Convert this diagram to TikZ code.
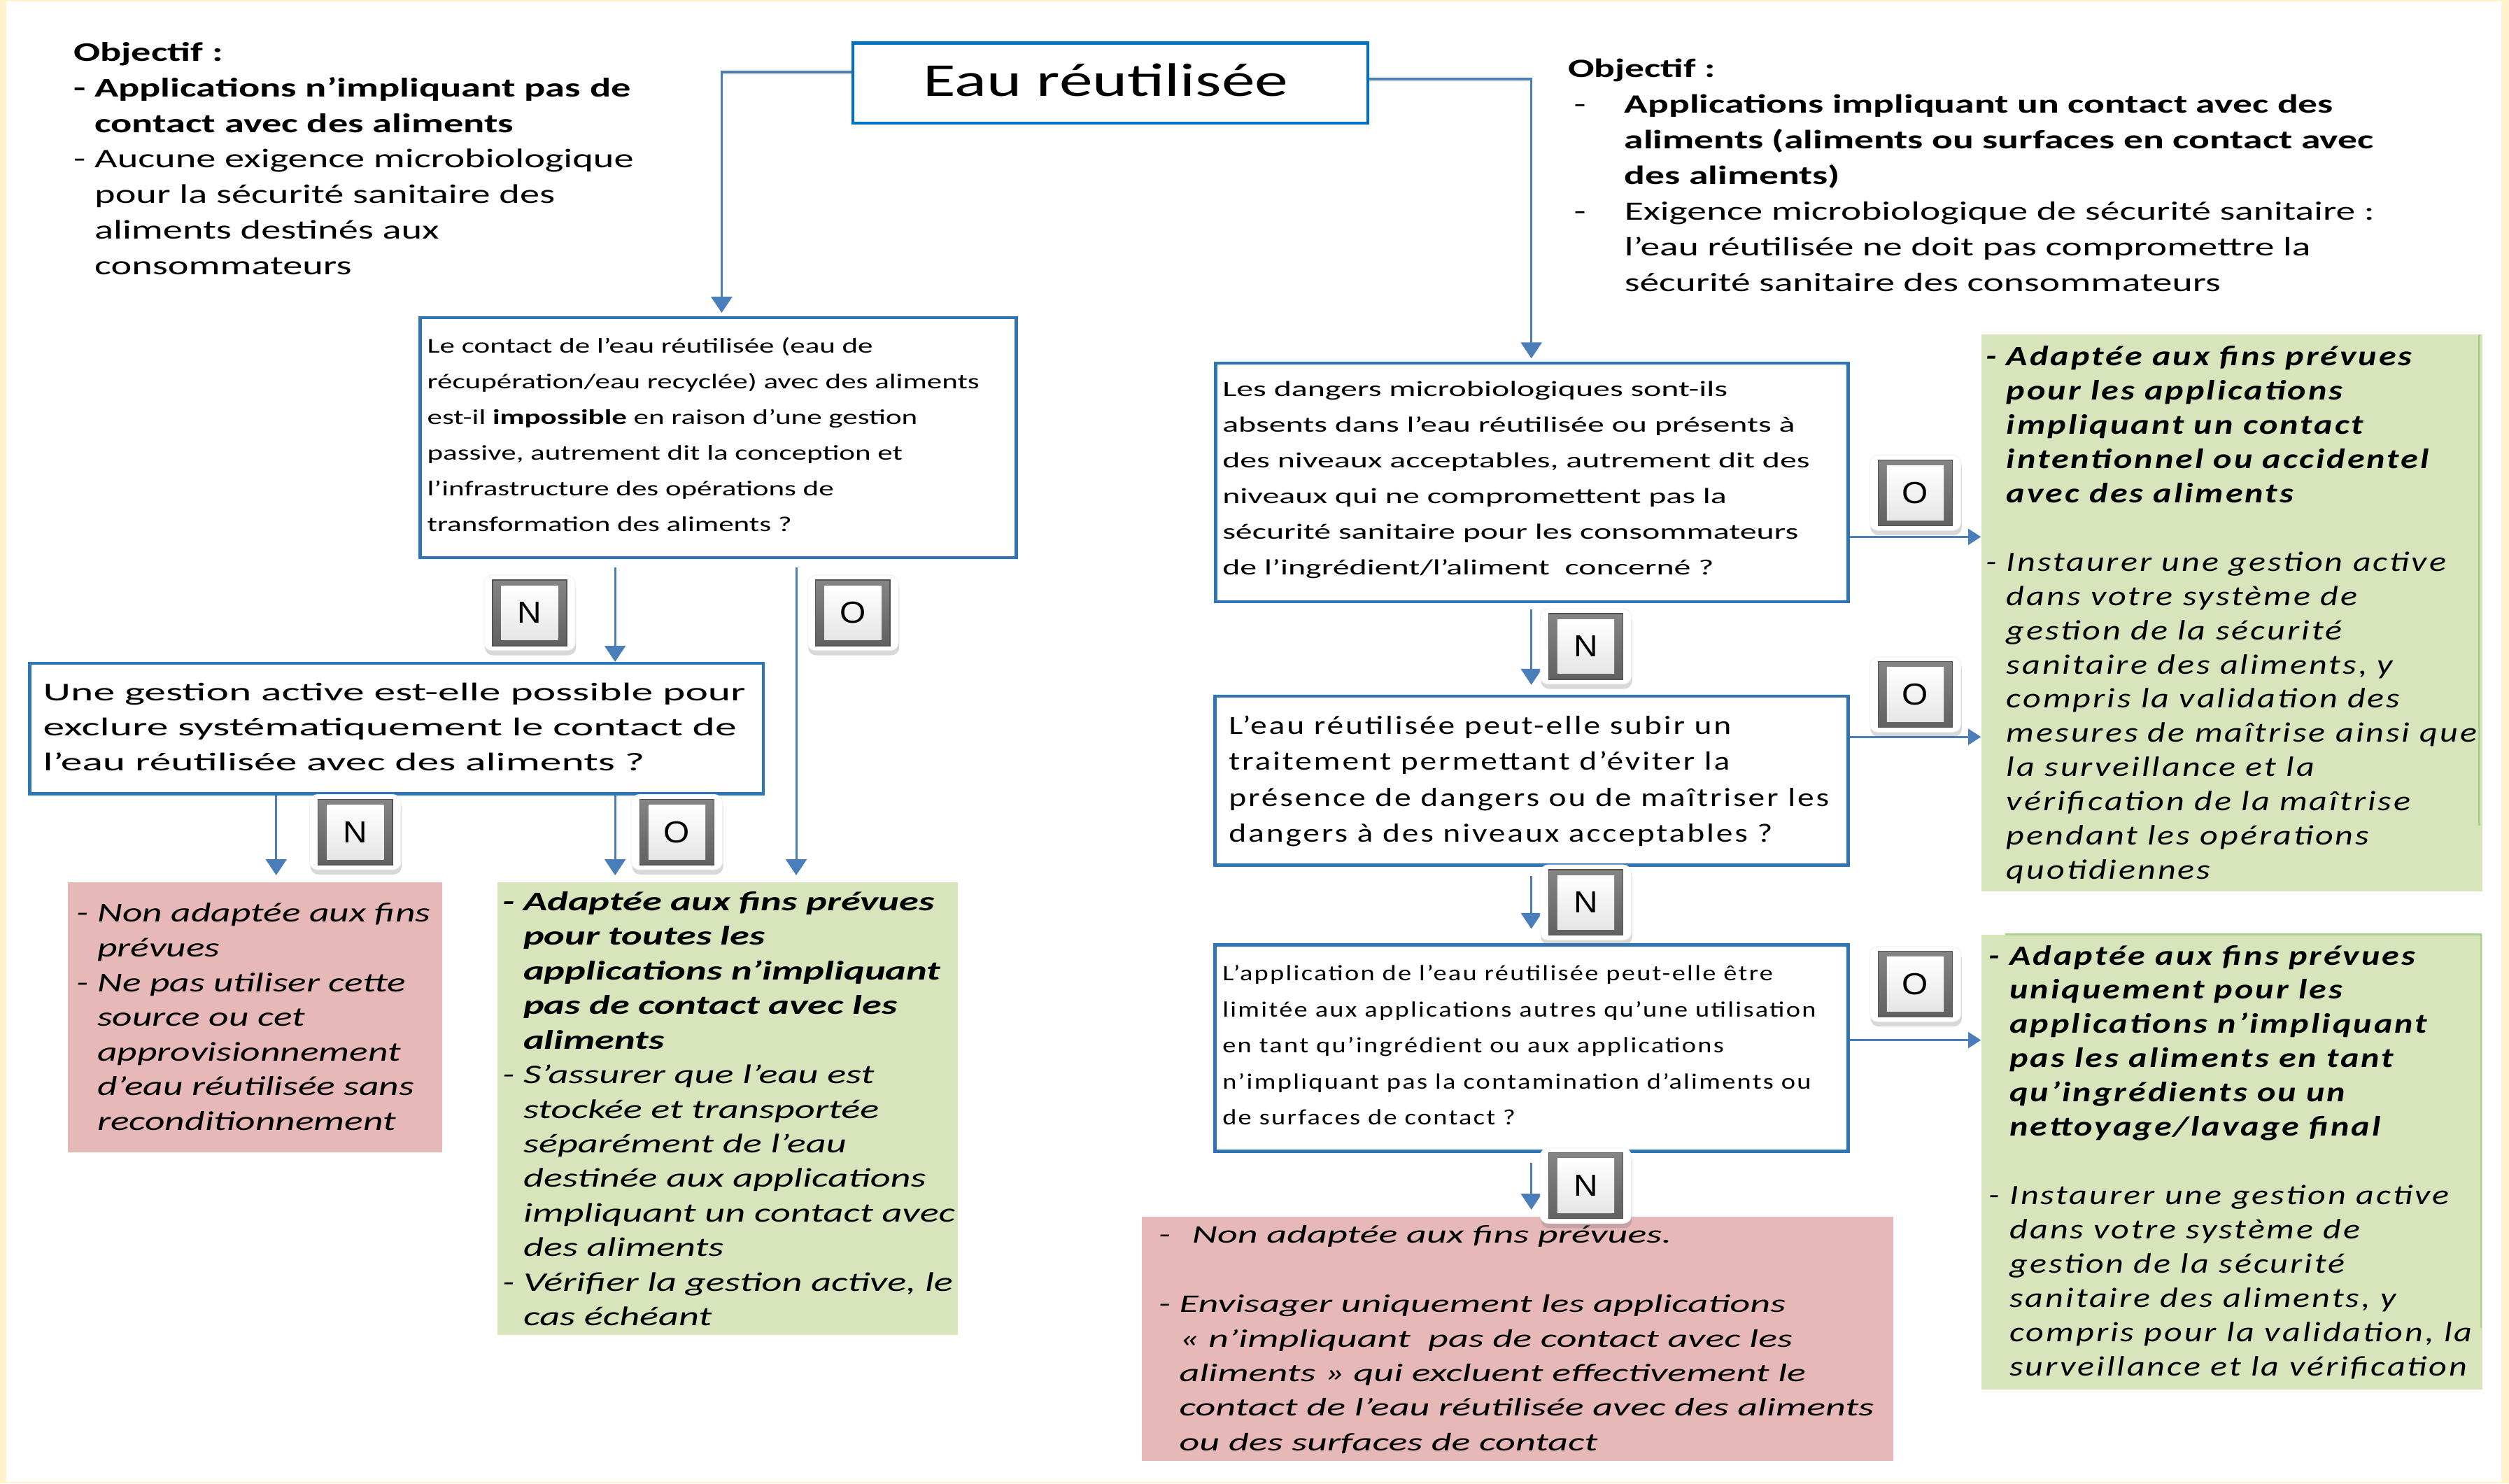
\documentclass[tikz,border=0pt]{standalone}
\usepackage{fontspec}
\setmainfont{Carlito}
\newfontfamily\spfont{Carlito}[LetterSpace=6.0]
\newfontfamily\arialfont{Liberation Sans}
\usepackage{graphicx}
\usetikzlibrary{arrows.meta,shadows}
\definecolor{connblue}{RGB}{74,126,187}
\definecolor{boxblue}{RGB}{46,117,182}
\definecolor{titleblue}{RGB}{0,112,192}
\definecolor{redfill}{RGB}{230,184,183}
\definecolor{greenfill}{RGB}{216,228,188}
\definecolor{greenedge}{RGB}{169,208,142}
\definecolor{yellowbg}{RGB}{255,242,204}
\definecolor{btngray}{RGB}{112,112,112}
\newcommand\blk[5][]{\resizebox{#2pt}{\height}{\fontsize{#3pt}{#4pt}\selectfont#1\begin{tabular}{@{}l@{}}#5\end{tabular}}}
\newcommand\indt{\phantom{- }}
\newcommand\btn[3]{\node[btnout] at (#2) {};\node[btnframe] (#1) at (#2) {};\node[btnface] at (#2) {\scalebox{1.1}[1]{\arialfont\fontsize{19pt}{19pt}\selectfont #3}};}
\tikzset{
 qbox/.style={draw=boxblue, line width=2pt, fill=white, anchor=north west, inner sep=0pt},
 cbox/.style={anchor=north west, inner sep=0pt, draw=none},
 txt/.style={anchor=north west, inner sep=0pt, outer sep=0pt},
 conn/.style={draw=connblue, line width=1.3pt},
 varr/.style={conn, -{Triangle[length=10pt,width=13pt]}},
 harr/.style={conn, -{Triangle[length=8pt,width=10pt]}},
 btnout/.style={rectangle, rounded corners=5pt, minimum width=57pt, minimum height=47pt, fill=white, draw=black!6, drop shadow={shadow xshift=0.5pt, shadow yshift=-3pt, opacity=0.25, fill=black!60}},
 btnframe/.style={rectangle, minimum width=46.5pt, minimum height=41pt, top color=black!48, bottom color=black!62, draw=black!68, line width=0.6pt},
 btnface/.style={rectangle, minimum width=35.5pt, minimum height=34pt, inner sep=0pt, top color=white, bottom color=black!10},
}
\begin{document}
\begin{tikzpicture}[x=1pt,y=-1pt]
\useasboundingbox (0,0) rectangle (1568,927);
\fill[yellowbg] (0,0) rectangle (1568,927);
\fill[white] (4,0.8) rectangle (1563,926);

% boxes
\node[qbox, draw=titleblue, line width=1.8pt, minimum width=322pt, minimum height=50pt] (title) at (532,26) {};
\node[qbox, minimum width=372.5pt, minimum height=150pt] (box1) at (261.5,197.5) {};
\node[qbox, minimum width=458.5pt, minimum height=81.4pt] (box2) at (17.5,413.6) {};
\node[qbox, minimum width=395.4pt, minimum height=149pt] (R1) at (758.6,226) {};
\node[qbox, minimum width=395.7pt, minimum height=105.6pt] (R2) at (758.3,434) {};
\node[qbox, minimum width=395.7pt, minimum height=129pt] (R3) at (758.3,589.5) {};
\node[cbox, fill=redfill, minimum width=234pt, minimum height=169pt] (redL) at (42,551) {};
\node[cbox, fill=greenfill, minimum width=288pt, minimum height=283pt] (G1) at (310.5,551) {};
\node[cbox, fill=redfill, minimum width=469.4pt, minimum height=152.6pt] (red2) at (713.6,760) {};
\node[cbox, fill=greenfill, minimum width=313pt, minimum height=348pt] (G2) at (1238,209) {};
\node[cbox, fill=greenfill, minimum width=313pt, minimum height=284pt] (G3) at (1238,584) {};
\draw[greenedge, line width=1pt] ([xshift=-2pt]G2.north east) -- ([xshift=-2pt,yshift=-307pt]G2.north east);
\draw[greenedge, line width=1pt] ([xshift=15pt]G3.north west) -- ([xshift=-1pt]G3.north east) -- ([xshift=-1pt,yshift=-246pt]G3.north east);

% texts
\node[anchor=base, inner sep=0pt] (titletxt) at (691,60) {\resizebox{228pt}{\height}{\fontsize{29.4pt}{35pt}\selectfont Eau réutilisée}};

\node[txt] (objL) at (46,22.7) {\blk{350}{16.8}{22.2}{%
\textbf{Objectif :}\\
\textbf{- Applications n’impliquant pas de}\\
\textbf{\indt contact avec des aliments}\\
- Aucune exigence microbiologique\\
\indt pour la sécurité sanitaire des\\
\indt aliments destinés aux\\
\indt consommateurs}};

\node[txt] (objR) at (980,32.5) {\blk{504}{16.5}{22.35}{%
\textbf{Objectif :}\\
\makebox[1.45em][l]{\hspace{0.15em}-}\textbf{Applications impliquant un contact avec des}\\
\hspace*{1.45em}\textbf{aliments (aliments ou surfaces en contact avec}\\
\hspace*{1.45em}\textbf{des aliments)}\\
\makebox[1.45em][l]{\hspace{0.15em}-}Exigence microbiologique de sécurité sanitaire :\\
\hspace*{1.45em}l’eau réutilisée ne doit pas compromettre la\\
\hspace*{1.45em}sécurité sanitaire des consommateurs}};

\node[txt] (t1) at (267,205) {\blk{345}{13.2}{22.3}{%
Le contact de l’eau réutilisée (eau de\\
récupération/eau recyclée) avec des aliments\\
est-il \textbf{impossible} en raison d’une gestion\\
passive, autrement dit la conception et\\
l’infrastructure des opérations de\\
transformation des aliments ?}};

\node[txt] (t2) at (27,422.7) {\blk{439}{16}{21.85}{%
Une gestion active est-elle possible pour\\
exclure systématiquement le contact de\\
l’eau réutilisée avec des aliments ?}};

\node[txt] (tRL) at (48,561) {\blk[\itshape]{221}{17}{21.7}{%
- Non adaptée aux fins\\
\indt prévues\\
- Ne pas utiliser cette\\
\indt source ou cet\\
\indt approvisionnement\\
\indt d’eau réutilisée sans\\
\indt reconditionnement}};

\node[txt] (tG1) at (314,553.8) {\blk[\itshape]{283}{16.8}{21.63}{%
\textbf{- Adaptée aux fins prévues}\\
\textbf{\indt pour toutes les}\\
\textbf{\indt applications n’impliquant}\\
\textbf{\indt pas de contact avec les}\\
\textbf{\indt aliments}\\
- S’assurer que l’eau est\\
\indt stockée et transportée\\
\indt séparément de l’eau\\
\indt destinée aux applications\\
\indt impliquant un contact avec\\
\indt des aliments\\
- Vérifier la gestion active, le\\
\indt cas échéant}};

\node[txt] (tR1) at (764,232.2) {\blk{367}{13.6}{22.3}{%
Les dangers microbiologiques sont-ils\\
absents dans l’eau réutilisée ou présents à\\
des niveaux acceptables, autrement dit des\\
niveaux qui ne compromettent pas la\\
sécurité sanitaire pour les consommateurs\\
de l’ingrédient/l’aliment\ \ concerné ?}};

\node[txt] (tR2) at (768,443.1) {\blk[\spfont]{375}{16.4}{22.5}{%
L’eau réutilisée peut-elle subir un\\
traitement permettant d’éviter la\\
présence de dangers ou de maîtriser les\\
dangers à des niveaux acceptables ?}};

\node[txt] (tR3) at (764,597.2) {\blk[\spfont]{371}{13.7}{22.5}{%
L’application de l’eau réutilisée peut-elle être\\
limitée aux applications autres qu’une utilisation\\
en tant qu’ingrédient ou aux applications\\
n’impliquant pas la contamination d’aliments ou\\
de surfaces de contact ?}};

\node[txt] (tRd2) at (724,761.8) {\blk[\itshape]{447}{15.8}{21.6}{%
-\hspace{0.55em}Non adaptée aux fins prévues.\\
\\
- Envisager uniquement les applications\\
\indt « n’impliquant\ \ pas de contact avec les\\
\indt aliments » qui excluent effectivement le\\
\indt contact de l’eau réutilisée avec des aliments\\
\indt ou des surfaces de contact}};

\node[txt] (tG2) at (1241,213.5) {\blk[\spfont\itshape]{307}{17.5}{21.4}{%
\textbf{- Adaptée aux fins prévues}\\
\textbf{\indt pour les applications}\\
\textbf{\indt impliquant un contact}\\
\textbf{\indt intentionnel ou accidentel}\\
\textbf{\indt avec des aliments}\\
\\
- Instaurer une gestion active\\
\indt dans votre système de\\
\indt gestion de la sécurité\\
\indt sanitaire des aliments, y\\
\indt compris la validation des\\
\indt mesures de maîtrise ainsi que\\
\indt la surveillance et la\\
\indt vérification de la maîtrise\\
\indt pendant les opérations\\
\indt quotidiennes}};

\node[txt] (tG3) at (1243,588) {\blk[\spfont\itshape]{302}{17.5}{21.4}{%
\textbf{- Adaptée aux fins prévues}\\
\textbf{\indt uniquement pour les}\\
\textbf{\indt applications n’impliquant}\\
\textbf{\indt pas les aliments en tant}\\
\textbf{\indt qu’ingrédients ou un}\\
\textbf{\indt nettoyage/lavage final}\\
\\
- Instaurer une gestion active\\
\indt dans votre système de\\
\indt gestion de la sécurité\\
\indt sanitaire des aliments, y\\
\indt compris pour la validation, la\\
\indt surveillance et la vérification}};

% connectors
\coordinate (tl) at (451,45);
\coordinate (tr) at (957,49.5);
\coordinate (xa) at (384.4,0);
\coordinate (xb) at (497.6,0);
\coordinate (xc) at (172.6,0);
\coordinate (xr) at (957,0);
\coordinate (ya) at (0,335.5);
\coordinate (yb) at (0,460.5);
\coordinate (yc) at (0,650);
\draw[varr, line width=1.5pt, shorten >=2pt] (title.west |- tl) -| (box1.north -| tl);
\draw[varr, line width=1.5pt, shorten >=2pt] (title.east |- tr) -| (R1.north -| tr);
\draw[varr, shorten <=5pt] (box1.south -| xa) -- (box2.north -| xa);
\draw[varr, shorten <=5pt, shorten >=4pt] (box1.south -| xb) -- (G1.north -| xb);
\draw[varr, shorten >=4pt] (box2.south -| xc) -- (redL.north -| xc);
\draw[varr, shorten >=4pt] (box2.south -| xa) -- (G1.north -| xa);
\draw[varr, shorten <=4pt, shorten >=6pt] (R1.south -| xr) -- (R2.north -| xr);
\draw[varr, shorten <=6pt, shorten >=9pt] (R2.south -| xr) -- (R3.north -| xr);
\draw[varr, shorten <=6pt, shorten >=4pt] (R3.south -| xr) -- (red2.north -| xr);
\draw[harr] (R1.east |- ya) -- (G2.west |- ya);
\draw[harr] (R2.east |- yb) -- (G2.west |- yb);
\draw[harr] (R3.east |- yc) -- (G3.west |- yc);

% buttons
\btn{bn1}{331,383}{N}
\btn{bo1}{533,383}{O}
\btn{bn2}{222,520}{N}
\btn{bo2}{423,520}{O}
\btn{bn3}{991,404}{N}
\btn{bn4}{991,564}{N}
\btn{bn5}{991,741}{N}
\btn{bo3}{1197,308}{O}
\btn{bo4}{1197,434}{O}
\btn{bo5}{1197,615}{O}
\end{tikzpicture}
\end{document}
